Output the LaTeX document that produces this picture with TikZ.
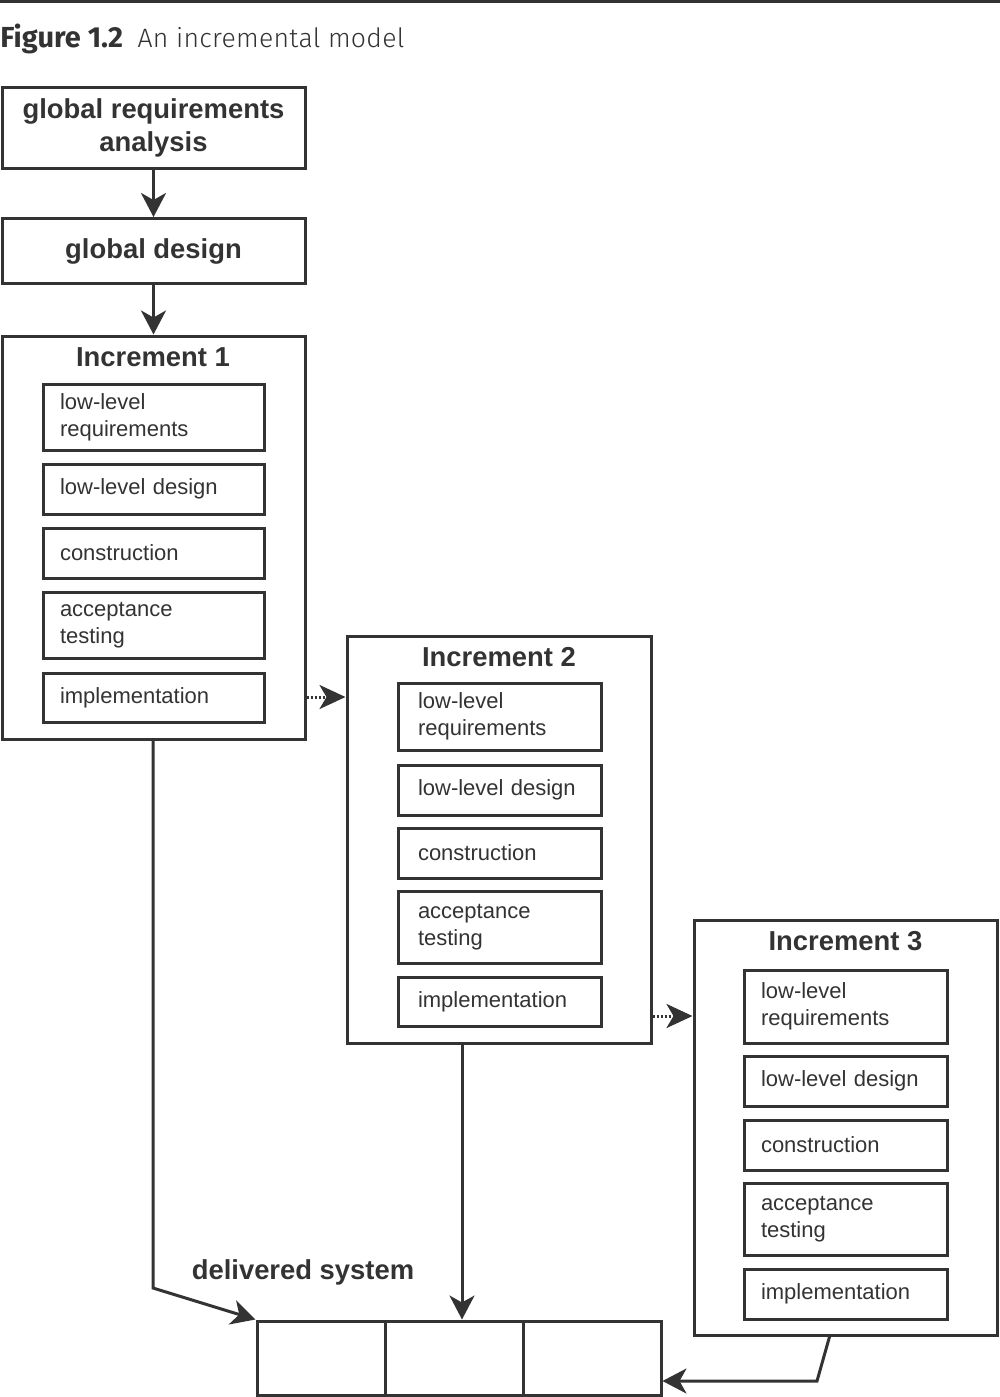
\documentclass[tikz,border=0pt]{standalone}
\usepackage{fontspec}
\setmainfont{Liberation Sans}
\newfontfamily\titlefont{Fira Sans}
\newfontfamily\titlelight{Fira Sans Light}[LetterSpace=1]
\usetikzlibrary{arrows.meta}
\definecolor{ink}{HTML}{333333}
\begin{document}
\begin{tikzpicture}[x=0.5pt,y=-0.5pt,
  every node/.style={text=ink},
  bx/.style={draw=ink, line width=1.5pt, inner sep=0pt},
  big/.style={font=\fontsize{13.7}{16.5}\selectfont\bfseries},
  inbox/.style={bx, minimum width=#1, text width=#1-17pt, inner xsep=8.5pt, align=left,
     font=\fontsize{11}{13.6}\selectfont},
  inboxb/.style={bx, minimum width=#1, text width=#1-20pt, inner xsep=10pt, align=left,
     font=\fontsize{11}{13.6}\selectfont},
  ln/.style={draw=ink, line width=1.5pt},
  tip/.style={-{Stealth[length=12pt,width=12.5pt,inset=3.5pt]}},
  dotarr/.style={draw=ink, line width=1.5pt, dash pattern=on 1pt off 1pt,
     -{Stealth[length=13pt,width=12pt,inset=3.5pt]}}
]
\useasboundingbox (0,0) rectangle (1000,1397);
\fill[ink] (0,0) rectangle (1000,3);
\node[anchor=base west, inner sep=0pt] (title) at (0,47)
  {\fontsize{14.5}{16}\selectfont\titlefont\bfseries Figure 1.2\hspace{0.5em}\fontsize{13.3}{16}\selectfont\titlelight\mdseries An incremental model};

\node[bx, big, minimum width=151.5pt, minimum height=40.5pt, align=center] (A) at (153.5,127.5)
  {global requirements\\analysis};
\node[bx, big, minimum width=151.5pt, minimum height=32.5pt] (B) at (153.5,251) {global design};

% Increment 1
\node[bx, minimum width=151.5pt, minimum height=201.5pt] (inc1) at (153.5,537.5) {};
\node[big, inner sep=0pt] (t1) at (153,357) {Increment 1};
\node[inbox=110.5pt, minimum height=33pt] (r1) at (153.5,417) {low-level\\requirements};
\node[inbox=110.5pt, minimum height=25pt] (d1x) at (153.5,489) {low-level design};
\node[inbox=110.5pt, minimum height=25pt] (c1) at (153.5,553) {construction};
\node[inbox=110.5pt, minimum height=33pt] (a1) at (153.5,625) {acceptance\\testing};
\node[inbox=110.5pt, minimum height=24.5pt] (i1) at (153.5,697.5) {implementation};

% Increment 2
\node[bx, minimum width=152pt, minimum height=203.5pt] (inc2) at (499,839.5) {};
\node[big, inner sep=0pt] (t2) at (499,657) {Increment 2};
\node[inboxb=101.5pt, minimum height=33.5pt] (r2) at (499.5,716.5) {low-level\\requirements};
\node[inboxb=101.5pt, minimum height=25pt] (d2x) at (499.5,790) {low-level design};
\node[inboxb=101.5pt, minimum height=25pt] (c2) at (499.5,853) {construction};
\node[inboxb=101.5pt, minimum height=36pt] (a2) at (499.5,927) {acceptance\\testing};
\node[inboxb=101.5pt, minimum height=24.5pt] (i2) at (499.5,1001.5) {implementation};

% Increment 3
\node[bx, minimum width=151.5pt, minimum height=207.5pt] (inc3) at (845.5,1127.5) {};
\node[big, inner sep=0pt] (t3) at (845.5,941) {Increment 3};
\node[inbox=101.5pt, minimum height=36.5pt] (r3) at (845.5,1006.5) {low-level\\requirements};
\node[inbox=101.5pt, minimum height=25pt] (d3x) at (845.5,1081) {low-level design};
\node[inbox=101.5pt, minimum height=25pt] (c3) at (845.5,1145) {construction};
\node[inbox=101.5pt, minimum height=36pt] (a3) at (845.5,1219) {acceptance\\testing};
\node[inbox=101.5pt, minimum height=25pt] (i3) at (845.5,1294) {implementation};

% delivered system
\node[big, inner sep=0pt] (ds) at (303,1272) {delivered system};
\node[bx, minimum width=64pt, minimum height=37pt] (s1) at (321,1358) {};
\node[bx, minimum width=69pt, minimum height=37pt] (s2) at (454,1358) {};
\node[bx, minimum width=69pt, minimum height=37pt] (s3) at (592,1358) {};

% connectors
\draw[ln, tip] (A.south) -- (B.north);
\draw[ln, tip] (B.south) -- (inc1.north);
\draw[dotarr] (inc1.east |- 0,697) -- (inc2.west |- 0,697);
\draw[dotarr] (inc2.east |- 0,1016) -- (inc3.west |- 0,1016);
\coordinate (k1) at (153,1288);
\draw[ln, tip] (inc1.south -| k1) -- (k1) -- (s1.north west);
\coordinate (k2) at (462,1043);
\draw[ln, tip] (k2) -- (k2 |- s2.north);
\coordinate (k3a) at (830,1335);
\coordinate (k3b) at (817,1381);
\draw[ln, tip] (k3a) -- (k3b) -- (s3.east |- k3b);
\end{tikzpicture}
\end{document}
